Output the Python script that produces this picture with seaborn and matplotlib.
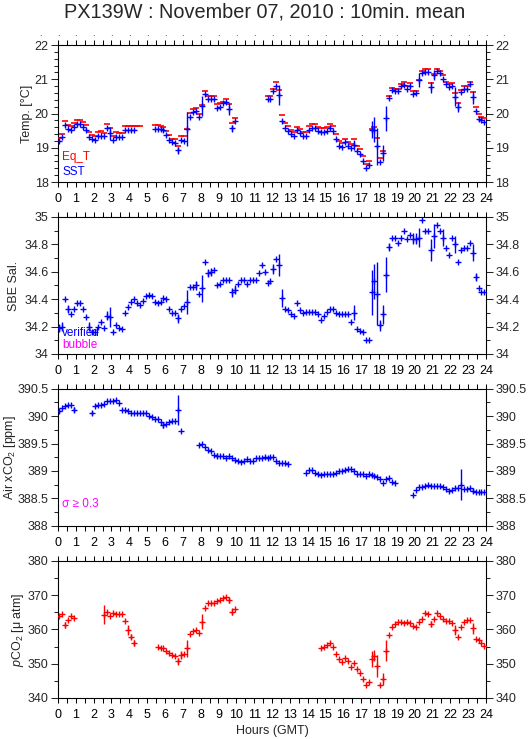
import numpy as np
import pandas as pd
import matplotlib
matplotlib.use('Agg')
import matplotlib.pyplot as plt
from matplotlib.ticker import MultipleLocator, FuncFormatter
import seaborn as sns

nan = np.nan

# 10-minute bins, value plotted at the centre of each bin
minutes = np.arange(5, 1440, 10)
hours = minutes / 60.0

# SST (blue) and equilibrator temperature (red), one row per hour
sst = [
    19.19, 19.31, 19.67, 19.55, 19.53, 19.62,
    19.69, 19.69, 19.62, 19.53, 19.31, 19.27,
    19.24, 19.35, 19.35, 19.33, 19.59, 19.43,
    19.22, 19.32, 19.30, 19.31, 19.53, 19.51,
    19.53, 19.53, nan, nan, nan, nan,
    nan, nan, 19.56, 19.56, 19.55, 19.51,
    19.38, 19.24, 19.17, 19.14, 18.93, 19.24,
    19.21, 19.55, 19.91, 20.04, 20.06, 19.89,
    20.22, 20.56, 20.42, 20.42, 20.42, 20.15,
    20.20, 20.32, 20.34, 20.13, 19.57, 19.79,
    nan, nan, nan, nan, nan, nan,
    nan, nan, nan, nan, 20.42, 20.42,
    20.66, 20.81, 20.54, 19.79, 19.57, 19.50,
    19.40, 19.33, 19.51, 19.43, 19.33, 19.35,
    19.53, 19.57, 19.57, 19.49, 19.46, 19.47,
    19.50, 19.59, 19.50, 19.27, 19.06, 19.02,
    19.16, 19.04, 19.00, 19.09, 18.92, 18.83,
    18.61, 18.42, 18.50, 19.53, 19.53, 19.04,
    18.59, 18.85, 19.86, 20.44, 20.69, 20.65,
    20.65, 20.80, 20.83, 20.71, 20.80, 20.56,
    20.59, 20.98, 21.17, 21.22, 21.22, 20.76,
    21.12, 21.24, 21.17, 21.00, 20.86, 20.78,
    20.80, 20.49, 20.20, 20.63, 20.73, 20.73,
    20.86, 20.47, 20.06, 19.85, 19.80, 19.74,
]
eq_t = [
    19.28, 19.41, 19.79, 19.65, 19.63, 19.71,
    19.82, 19.82, 19.75, 19.66, 19.45, 19.37,
    19.35, 19.46, 19.49, 19.43, 19.68, 19.57,
    19.33, 19.45, 19.43, 19.43, 19.64, 19.64,
    19.64, 19.64, 19.64, 19.64, nan, nan,
    nan, nan, 19.65, 19.65, 19.64, 19.60,
    19.49, 19.37, 19.27, 19.27, 19.06, 19.35,
    19.35, 19.55, 20.01, 20.14, 20.15, 20.00,
    20.24, 20.65, 20.51, 20.51, 20.51, 20.27,
    20.31, 20.33, 20.42, 20.27, 19.71, 19.86,
    nan, nan, nan, nan, nan, nan,
    nan, nan, nan, nan, 20.51, 20.51,
    20.71, 20.91, 20.69, 19.96, 19.72, 19.63,
    19.53, 19.45, 19.60, 19.55, 19.45, 19.45,
    19.63, 19.68, 19.68, 19.60, 19.57, 19.57,
    19.60, 19.68, 19.64, 19.40, 19.19, 19.14,
    19.26, 19.18, 19.11, 19.26, 19.04, 18.97,
    18.77, 18.53, 18.61, 19.55, 19.60, 19.29,
    18.71, 18.90, nan, 20.52, 20.75, 20.71,
    20.71, 20.86, 20.93, 20.80, 20.88, 20.67,
    20.67, 20.98, 21.25, 21.29, 21.29, 20.90,
    21.15, 21.31, 21.25, 21.12, 20.93, 20.86,
    20.88, 20.59, 20.30, 20.69, 20.81, 20.81,
    20.91, 20.62, 20.18, 19.98, 19.91, 19.86,
]
sst_err_slot = [17, 40, 43, 48, 57, 58, 74, 99, 105, 106, 107, 109, 110, 121, 125, 126, 133, 134, 139]
sst_err_sd = [0.19, 0.1, 0.5, 0.3, 0.18, 0.1, 0.29, 0.15, 0.24, 0.36, 0.55, 0.24, 0.36, 0.2, 0.17, 0.15, 0.28, 0.15, 0.2]

# SBE salinity
sal = [
    34.19, 34.20, 34.40, 34.33, 34.29, 34.33,
    34.37, 34.37, 34.33, 34.27, 34.20, 34.16,
    34.16, 34.20, 34.23, 34.19, 34.28, 34.27,
    34.16, 34.21, 34.19, 34.18, 34.30, 34.34,
    34.38, 34.40, 34.37, 34.36, 34.39, 34.42,
    34.43, 34.42, 34.38, 34.37, 34.38, 34.41,
    34.40, 34.33, 34.30, 34.30, 34.26, 34.33,
    34.35, 34.38, 34.49, 34.49, 34.50, 34.44,
    34.48, 34.67, 34.59, 34.60, 34.61, 34.50,
    34.51, 34.54, 34.54, 34.54, 34.45, 34.47,
    34.51, 34.54, 34.54, 34.51, 34.54, 34.54,
    34.54, 34.59, 34.65, 34.60, 34.52, 34.53,
    34.62, 34.69, 34.65, 34.41, 34.33, 34.32,
    34.29, 34.28, 34.37, 34.32, 34.30, 34.31,
    34.31, 34.31, 34.31, 34.29, 34.25, 34.28,
    34.31, 34.33, 34.33, 34.30, 34.29, 34.29,
    34.29, 34.29, 34.23, 34.30, 34.18, 34.17,
    34.16, 34.10, 34.10, 34.45, 34.53, 34.44,
    34.21, 34.29, 34.58, 34.78, 34.85, 34.85,
    34.81, 34.85, 34.90, 34.84, 34.87, 34.84,
    34.84, 34.85, 34.98, 34.90, 34.90, 34.76,
    34.86, 34.94, 34.90, 34.85, 34.77, 34.72,
    34.85, 34.80, 34.67, 34.76, 34.77, 34.77,
    34.81, 34.74, 34.56, 34.48, 34.45, 34.45,
]
sal_err_slot = [0, 1, 3, 10, 16, 17, 40, 43, 46, 48, 50, 51, 58, 59, 72, 74, 75, 99, 105, 106, 107, 108,
                109, 110, 111, 119, 120, 121, 125, 126, 129, 133, 139, 140]
sal_err_sd = [0.03, 0.035, 0.03, 0.035, 0.035, 0.07, 0.035, 0.09, 0.035, 0.1, 0.03, 0.03, 0.035, 0.03,
              0.035, 0.08, 0.065, 0.055, 0.165, 0.13, 0.23, 0.04, 0.07, 0.125, 0.03, 0.04, 0.04, 0.07,
              0.08, 0.09, 0.06, 0.06, 0.06, 0.03]

# atmospheric xCO2
xco2 = [
    390.09, 390.15, 390.18, 390.20, 390.20, 390.12,
    nan, nan, nan, nan, nan, 390.06,
    390.18, 390.20, 390.21, 390.23, 390.27, 390.28,
    390.27, 390.30, 390.24, 390.12, 390.11, 390.09,
    390.06, 390.05, 390.05, 390.06, 390.05, 390.05,
    390.01, 389.98, 389.95, 389.94, 389.89, 389.83,
    389.86, 389.89, 389.91, 389.91, 390.11, 389.72,
    nan, nan, nan, nan, nan, 389.47,
    389.50, 389.43, 389.38, 389.37, 389.29, 389.28,
    389.28, 389.27, 389.24, 389.27, 389.23, 389.20,
    389.18, 389.16, 389.18, 389.21, 389.18, 389.18,
    389.23, 389.23, 389.23, 389.26, 389.23, 389.25,
    389.25, 389.19, 389.14, 389.14, 389.14, 389.12,
    nan, nan, nan, nan, nan, 388.97,
    389.02, 389.01, 388.96, 388.94, 388.93, 388.94,
    388.95, 388.95, 388.95, 388.96, 388.99, 388.99,
    389.02, 389.03, 389.04, 388.99, 388.95, 388.95,
    388.95, 388.91, 388.94, 388.93, 388.91, 388.89,
    388.85, 388.78, 388.85, 388.87, 388.79, 388.78,
    nan, nan, nan, nan, nan, 388.56,
    388.65, 388.70, 388.70, 388.72, 388.75, 388.73,
    388.73, 388.73, 388.73, 388.70, 388.67, 388.64,
    388.65, 388.68, 388.68, 388.75, 388.67, 388.67,
    388.68, 388.64, 388.62, 388.62, 388.62, 388.62,
]
xco2_err_slot = [0, 5, 11, 35, 40, 53, 135, 139]
xco2_err_sd = [0.04, 0.05, 0.04, 0.04, 0.28, 0.04, 0.28, 0.04]

# seawater pCO2
pco2 = [
    363.9, 364.5, 361.2, 362.8, 363.8, 363.3,
    nan, nan, nan, nan, nan, nan,
    nan, nan, nan, 364.3, 365.1, 363.9,
    364.7, 364.4, 364.4, 364.5, 362.6, 359.9,
    357.9, 356.0, nan, nan, nan, nan,
    nan, nan, nan, 354.8, 354.5, 354.5,
    353.8, 353.1, 352.6, 352.3, 350.7, 352.6,
    352.9, 354.5, 358.6, 359.7, 359.9, 359.1,
    362.3, 366.2, 367.8, 367.8, 367.8, 368.4,
    368.6, 369.3, 369.5, 368.6, 365.2, 365.9,
    nan, nan, nan, nan, nan, nan,
    nan, nan, nan, nan, nan, nan,
    nan, nan, nan, nan, nan, nan,
    nan, nan, nan, nan, nan, nan,
    nan, nan, nan, nan, 354.5, 354.8,
    355.4, 356.0, 355.0, 352.9, 351.3, 350.5,
    351.6, 350.7, 349.0, 350.2, 348.5, 347.3,
    345.5, 343.9, 344.6, 351.4, 352.3, 349.4,
    343.9, 345.5, 353.8, 358.4, 360.6, 361.6,
    362.1, 362.1, 361.8, 362.1, 361.8, 361.0,
    360.6, 362.3, 363.1, 364.7, 364.5, 361.6,
    363.0, 364.7, 363.9, 363.2, 362.6, 362.5,
    362.0, 359.9, 357.7, 360.6, 362.3, 362.8,
    362.8, 360.3, 357.2, 356.8, 356.0, 355.2,
]
pco2_err_slot = [2, 15, 23, 24, 25, 40, 41, 43, 48, 57, 58, 105, 106, 107, 109, 110, 125, 133, 139]
pco2_err_sd = [0.9, 2.8, 1.4, 0.8, 0.8, 1.0, 1.2, 2.4, 2.2, 1.0, 1.0, 2.3, 1.6, 3.2, 1.7, 3.1, 1.0, 1.5, 1.5]

BLUE = '#0000ff'
RED = '#ff0000'
MAGENTA = '#ff00ff'

sns.set_theme(style='ticks')
plt.rcParams['font.family'] = ['Liberation Sans', 'DejaVu Sans']
plt.rcParams['mathtext.fontset'] = 'custom'
plt.rcParams['mathtext.rm'] = 'Liberation Sans'
plt.rcParams['mathtext.it'] = 'Liberation Sans:italic'


def draw_points(ax, values, color, err_slot=None, err_sd=None, marker='+', s=15, lw=1.0):
    df = pd.DataFrame({'hour': hours, 'value': values}).dropna()
    sns.scatterplot(data=df, x='hour', y='value', marker=marker, color=color, edgecolor=color,
                    s=s, linewidth=lw, ax=ax, legend=False, zorder=3)
    if err_slot:
        v = np.array(values, dtype=float)[err_slot]
        sd = np.array(err_sd)
        ax.vlines(hours[err_slot], v - sd, v + sd, color=color, lw=lw, zorder=3)


def style_axis(ax, ylim, major, minor, label, labelx):
    ax.set_xlim(0, 24)
    ax.set_ylim(*ylim)
    ax.xaxis.set_major_locator(MultipleLocator(1))
    ax.xaxis.set_minor_locator(MultipleLocator(0.5))
    ax.yaxis.set_major_locator(MultipleLocator(major))
    ax.yaxis.set_minor_locator(MultipleLocator(minor))
    ax.yaxis.set_major_formatter(FuncFormatter(lambda v, p: '%g' % round(v, 3)))
    ax.xaxis.set_major_formatter(FuncFormatter(lambda v, p: '%d' % round(v)))
    ax.tick_params(axis='x', which='both', direction='out', top=True, bottom=True,
                   length=3.4, width=0.75, labelsize=9, pad=4.5, colors='black')
    ax.tick_params(axis='y', which='major', direction='out', left=True, right=True,
                   labelleft=True, labelright=True, length=5, width=0.75, labelsize=9, pad=1.7)
    ax.tick_params(axis='y', which='minor', direction='out', left=True, right=True,
                   length=2.9, width=0.75)
    for sp in ax.spines.values():
        sp.set_visible(True)
        sp.set_linewidth(0.8)
        sp.set_color('black')
    ax.set_xlabel('')
    ax.set_ylabel(label, fontsize=9)
    ax.yaxis.label.set_va('center')
    ax.yaxis.set_label_coords(labelx, 0.5)
    ax.grid(False)


fig = plt.figure(figsize=(5.29, 7.39), dpi=100)
fig.patch.set_facecolor('white')
left, width, height = 0.1096, 0.809, 0.1854
bottoms = [0.7537, 0.5210, 0.2886, 0.0555]
axes = [fig.add_axes([left, b, width, height]) for b in bottoms]
for ax in axes:
    ax.set_facecolor('white')

# Panel 1: temperatures
ax = axes[0]
draw_points(ax, eq_t, RED, marker='_', s=20, lw=1.2)
draw_points(ax, sst, BLUE, sst_err_slot, sst_err_sd)
style_axis(ax, (18, 22), 1, 0.2, 'Temp. [°C]', -0.072)
ax.text(0.01, 0.18, 'Eq_T', color=RED, fontsize=8.5, transform=ax.transAxes, va='center')
ax.text(0.01, 0.07, 'SST', color=BLUE, fontsize=8.5, transform=ax.transAxes, va='center')
for h in ax.get_xticks():
    ax.text(h, 1.05, '.', fontsize=7, ha='center', va='bottom',
            transform=ax.get_xaxis_transform())

# Panel 2: salinity
ax = axes[1]
draw_points(ax, sal, BLUE, sal_err_slot, sal_err_sd)
style_axis(ax, (34, 35), 0.2, 0.1, 'SBE Sal.', -0.103)
ax.text(0.01, 0.155, 'verified', color=BLUE, fontsize=8.5, transform=ax.transAxes, va='center')
ax.text(0.01, 0.063, 'bubble', color=MAGENTA, fontsize=8.5, transform=ax.transAxes, va='center')

# Panel 3: air xCO2
ax = axes[2]
draw_points(ax, xco2, BLUE, xco2_err_slot, xco2_err_sd)
style_axis(ax, (388, 390.5), 0.5, 0.25, 'Air xCO$_2$ [ppm]', -0.112)
ax.text(0.01, 0.16, 'σ ≥ 0.3', color=MAGENTA, fontsize=8.5, transform=ax.transAxes, va='center')

# Panel 4: pCO2
ax = axes[3]
draw_points(ax, pco2, RED, pco2_err_slot, pco2_err_sd)
style_axis(ax, (340, 380), 10, 5, '$\\it{p}$CO$_2$ [μ atm]', -0.093)
ax.set_xlabel('Hours (GMT)', fontsize=9, labelpad=3)

fig.text(0.5, 0.996, 'PX139W : November 07, 2010 : 10min. mean', ha='center', va='top', fontsize=14.3)

fig.savefig('out.png', dpi=100, facecolor='white')
